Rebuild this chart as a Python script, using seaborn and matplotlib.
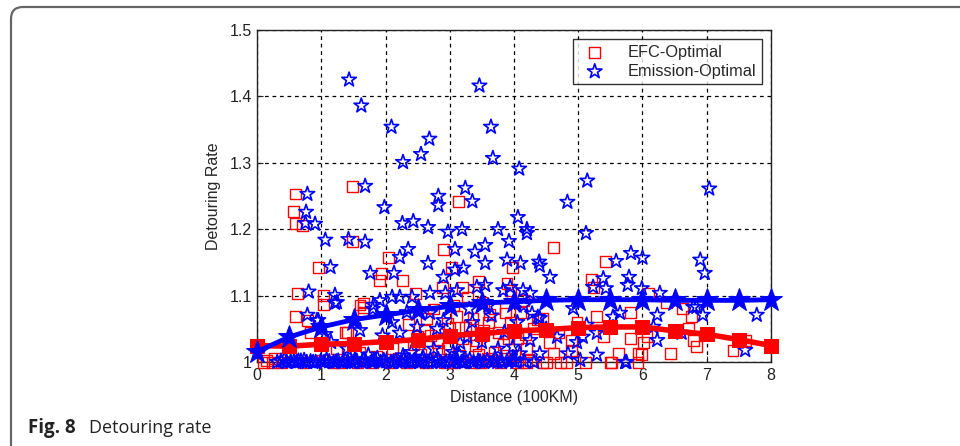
import matplotlib.pyplot as plt
import matplotlib.patches as mpatches
from matplotlib.transforms import IdentityTransform
import pandas as pd
import seaborn as sns

# EFC-Optimal scattered samples (distance in 100KM, detouring rate)
efc_x = [0.59, 0.56, 0.59, 0.70, 1.49, 1.48, 0.95, 0.62, 1.03, 1.03, 0.59, 0.78, 3.13, 2.90, 2.04,
         1.94, 1.91, 2.26, 3.03, 3.45, 3.19, 2.88, 2.46, 3.27, 1.65, 1.65, 1.24, 1.40, 4.62, 5.42,
         5.20, 5.23, 3.98, 3.89, 3.94, 4.14, 5.29, 5.81, 6.09, 6.38, 6.63, 6.77, 6.71, 6.84, 6.79,
         7.41, 6.43, 5.93, 6.01, 5.81, 5.62, 5.50, 5.39, 4.90, 4.98, 4.61, 4.82, 4.72, 4.20, 4.51,
         4.25, 3.63, 7.60, 5.99, 5.11, 4.45, 4.20, 4.90, 6.07, 5.93, 5.52,
         2.35, 2.64, 3.11, 3.36, 3.52, 3.70, 3.86, 2.43, 2.96, 3.83, 3.58, 0.83, 1.60, 0.10, 1.37,
         1.60, 1.65, 2.70, 2.80, 3.00, 3.20, 3.30, 3.40, 3.60, 3.75, 3.95, 4.05, 4.10, 4.30, 4.45,
         4.55, 4.70, 3.15, 3.45, 3.70, 3.85, 4.00, 2.55, 2.20, 1.85, 2.10, 2.60, 2.75, 3.05, 3.50,
         0.15, 0.23, 0.38, 0.72, 1.02, 1.31, 1.56, 1.79, 2.07, 2.33, 2.62, 2.91, 3.08, 3.33, 3.48,
         3.79, 4.06, 2.49, 2.97, 3.62, 3.24, 1.18, 0.27, 3.92, 4.36, 2.83, 3.41, 4.18]
efc_y = [1.253, 1.226, 1.208, 1.205, 1.265, 1.181, 1.142, 1.104, 1.100, 1.087, 1.069, 1.063, 1.242,
         1.169, 1.158, 1.134, 1.123, 1.123, 1.142, 1.122, 1.113, 1.113, 1.104, 1.098, 1.089, 1.082,
         1.021, 1.044, 1.173, 1.152, 1.125, 1.113, 1.143, 1.119, 1.108, 1.093, 1.068, 1.075, 1.104,
         1.090, 1.081, 1.068, 1.051, 1.023, 1.033, 1.018, 1.013, 1.013, 1.030, 1.036, 1.013, 1.000,
         1.038, 1.033, 1.059, 1.013, 1.000, 1.000, 1.021, 1.000, 1.003, 1.003, 1.033, 1.011, 1.000,
         1.000, 1.000, 1.018, 1.038, 1.000, 1.000,
         1.056, 1.066, 1.068, 1.066, 1.048, 1.081, 1.074, 1.026, 1.021, 1.026, 1.006, 1.044, 1.015,
         1.000, 1.044, 1.086, 1.075, 1.040, 1.030, 1.050, 1.035, 1.055, 1.025, 1.060, 1.045, 1.060,
         1.035, 1.075, 1.050, 1.065, 1.030, 1.045, 1.010, 1.012, 1.015, 1.005, 1.010, 1.012, 1.005,
         1.008, 1.020, 1.048, 1.080, 1.085, 1.090, 1.002, 1.000, 1.000, 1.000, 1.002, 1.000, 1.000,
         1.000, 1.000, 1.000, 1.000, 1.000, 1.000, 1.000, 1.000, 1.000, 1.000, 1.038, 1.058, 1.072,
         1.052, 1.000, 1.006, 1.036, 1.064, 1.018, 1.033, 1.042]

# Emission-Optimal scattered samples
emi_x = [1.43, 1.62, 3.46, 3.64, 2.09, 2.27, 2.55, 2.68, 3.67, 4.08, 5.14, 7.04, 3.24, 1.98, 2.82,
         2.82, 4.83, 0.78, 0.76, 0.75, 0.90, 1.68, 3.35, 2.26, 2.43, 2.66, 2.97, 3.19, 3.75, 1.06,
         1.42, 1.68, 3.08, 3.39, 3.55, 3.55, 2.35, 2.22, 2.66, 2.90, 3.08, 3.21, 1.14, 1.76, 2.13,
         0.80, 1.21, 1.21, 0.78, 0.93, 1.06, 1.81, 1.91, 2.10, 2.22, 2.41, 2.69, 2.93, 3.11, 3.42,
         3.55, 3.92, 4.06, 4.20, 4.20, 5.12, 3.89, 4.10, 4.39, 4.40, 4.56, 5.82, 6.00, 5.59, 6.90,
         6.97, 5.79, 5.77, 5.39, 5.23, 5.43, 5.99, 6.27, 7.78, 7.60, 6.23, 6.17, 6.23, 6.94, 6.79,
         4.67, 4.84, 5.03, 5.29, 5.73, 4.40, 5.13, 5.29, 5.65, 5.54, 4.37, 4.28, 4.14, 3.94, 3.83,
         3.98, 3.98, 6.61, 6.84, 4.92, 4.40, 4.25, 4.98, 5.07, 5.75, 4.09, 4.25,
         2.22, 2.49, 2.90, 3.27, 2.54, 3.16, 2.02, 2.69, 2.33, 1.60, 1.73, 0.95, 1.24, 1.80,
         2.80, 3.00, 3.35, 3.50, 3.65, 3.75, 3.85, 3.60, 3.30, 3.05, 2.75, 2.40, 2.10, 1.95, 1.40,
         1.15, 4.50, 4.05, 4.15, 2.58, 3.14, 3.71, 2.27, 1.52, 0.64, 1.87, 3.96,
         0.31, 0.37, 0.46, 0.52, 0.61, 0.68, 0.77, 0.83, 0.91, 0.99, 1.04, 1.12, 1.19, 1.26, 1.33,
         1.41, 1.47, 1.55, 1.63, 1.69, 1.78, 1.84, 1.92, 2.01, 2.08, 2.16, 2.24, 2.31, 2.38, 2.47,
         2.53, 2.61, 2.72, 2.78, 2.86, 2.94, 3.03, 3.12, 3.18, 3.26, 3.37, 3.44, 3.53, 3.68, 3.81,
         3.89, 4.02, 4.16, 4.31,
         0.42, 0.57, 0.73, 0.87, 1.08, 1.23, 1.37, 1.51, 1.66, 1.81, 1.97, 2.12, 2.28, 2.43, 2.57,
         2.67, 2.82, 2.99, 3.09, 3.22, 3.31, 3.47, 3.58, 3.74]
emi_y = [1.425, 1.386, 1.416, 1.354, 1.354, 1.301, 1.313, 1.336, 1.307, 1.291, 1.273, 1.261, 1.262,
         1.233, 1.250, 1.236, 1.241, 1.253, 1.226, 1.209, 1.208, 1.265, 1.242, 1.209, 1.212, 1.203,
         1.196, 1.200, 1.200, 1.184, 1.185, 1.181, 1.170, 1.166, 1.176, 1.149, 1.170, 1.158, 1.149,
         1.128, 1.139, 1.142, 1.143, 1.134, 1.134, 1.106, 1.101, 1.089, 1.071, 1.063, 1.042, 1.086,
         1.093, 1.098, 1.098, 1.098, 1.104, 1.104, 1.108, 1.113, 1.116, 1.182, 1.218, 1.200, 1.194,
         1.194, 1.154, 1.149, 1.151, 1.145, 1.128, 1.164, 1.157, 1.152, 1.154, 1.134, 1.128, 1.116,
         1.126, 1.113, 1.111, 1.111, 1.104, 1.071, 1.018, 1.071, 1.053, 1.033, 1.071, 1.083, 1.038,
         1.013, 1.003, 1.011, 1.000, 1.013, 1.056, 1.044, 1.074, 1.068, 1.068, 1.073, 1.108, 1.113,
         1.108, 1.023, 1.003, 1.044, 1.083, 1.081, 1.066, 1.033, 1.030, 1.038, 1.000, 1.013, 1.104,
         1.044, 1.053, 1.063, 1.038, 1.030, 1.029, 1.029, 1.074, 1.075, 1.048, 1.011, 1.063, 1.090,
         1.080, 1.050, 1.040, 1.060, 1.030, 1.070, 1.020, 1.045, 1.085, 1.080, 1.015, 1.020, 1.015,
         1.060, 1.040, 1.020, 1.030, 1.050, 1.060, 1.085, 1.008, 1.012, 1.005, 1.010, 1.004, 1.002,
         1.006, 1.002,
         1.000, 1.002, 1.000, 1.001, 1.000, 1.002, 1.000, 1.001, 1.000, 1.002, 1.000, 1.001, 1.000,
         1.002, 1.000, 1.001, 1.000, 1.002, 1.000, 1.001, 1.000, 1.002, 1.000, 1.001, 1.000, 1.002,
         1.000, 1.001, 1.000, 1.002, 1.000, 1.001, 1.000, 1.002, 1.000, 1.001, 1.000, 1.002, 1.000,
         1.001, 1.000, 1.002, 1.000, 1.001, 1.000, 1.002, 1.000, 1.001, 1.000,
         1.004, 1.001, 1.003, 1.000, 1.004, 1.001, 1.003, 1.000, 1.004, 1.001, 1.003, 1.000, 1.004,
         1.001, 1.003, 1.000, 1.004, 1.001, 1.003, 1.000, 1.004, 1.001, 1.003, 1.000]

# fitted trend curves
fit_x = [0, 0.5, 1, 1.5, 2, 2.5, 3, 3.5, 4, 4.5, 5, 5.5, 6, 6.5, 7, 7.5, 8]
efc_fit = [1.025, 1.024, 1.027, 1.028, 1.031, 1.034, 1.040, 1.043, 1.047, 1.049, 1.052, 1.053,
           1.053, 1.047, 1.042, 1.034, 1.025]
emi_fit = [1.016, 1.038, 1.053, 1.064, 1.071, 1.078, 1.084, 1.089, 1.091, 1.093, 1.094, 1.094,
           1.094, 1.093, 1.093, 1.093, 1.094]

efc_df = pd.DataFrame({"dist": efc_x, "rate": efc_y})
emi_df = pd.DataFrame({"dist": emi_x, "rate": emi_y})
fit_df = pd.DataFrame({"dist": fit_x, "efc": efc_fit, "emi": emi_fit})

sns.set_style("ticks")
plt.rcParams["font.family"] = ["Liberation Sans", "DejaVu Sans"]

fig = plt.figure(figsize=(9.6, 4.46), dpi=100)
ax = fig.add_axes([0.268, 0.188, 0.535, 0.745])

sns.scatterplot(data=efc_df, x="dist", y="rate", ax=ax, marker="s", s=62,
                facecolors="none", edgecolor="red", linewidth=1.0,
                label="EFC-Optimal", clip_on=False, zorder=3)
sns.scatterplot(data=emi_df, x="dist", y="rate", ax=ax, marker="*", s=120,
                facecolors="none", edgecolor="blue", linewidth=1.2,
                label="Emission-Optimal", clip_on=False, zorder=3)

sns.lineplot(data=fit_df, x="dist", y="efc", ax=ax, color="red", lw=4,
             marker="s", markersize=10, markeredgecolor="red", zorder=4,
             legend=False, clip_on=False)
sns.lineplot(data=fit_df, x="dist", y="emi", ax=ax, color="blue", lw=3.5,
             marker="*", markersize=17, markeredgecolor="blue", zorder=5,
             legend=False, clip_on=False)

ax.set_xlim(0, 8)
ax.set_ylim(1, 1.5)
ax.set_xticks(range(0, 9))
ax.set_yticks([1, 1.1, 1.2, 1.3, 1.4, 1.5])
ax.set_yticklabels(["1", "1.1", "1.2", "1.3", "1.4", "1.5"])
ax.grid(True, color="black", linestyle=(0, (3, 3)), linewidth=0.9)
ax.set_axisbelow(True)
ax.tick_params(direction="in", labelsize=11.5, colors="#222222", length=4, pad=4)
for sp in ax.spines.values():
    sp.set_color("#222222")
    sp.set_linewidth(1.0)
ax.set_xlabel("Distance (100KM)", fontsize=11.5, labelpad=5)
ax.set_ylabel("Detouring Rate", fontsize=11.5, labelpad=6)

leg = ax.legend(loc="upper right", fontsize=11.8, frameon=True, fancybox=False,
                edgecolor="black", borderaxespad=0.55, handletextpad=1.0,
                borderpad=0.35, labelspacing=0.25)
leg.get_frame().set_linewidth(1.0)

# journal-style rounded frame and caption
frame = mpatches.FancyBboxPatch((11, -60), 1000, 499, boxstyle="round,pad=0,rounding_size=12",
                                transform=IdentityTransform(), facecolor="none",
                                edgecolor="#666666", linewidth=1.6)
fig.patches.append(frame)
fig.text(0.029, 0.029, "Fig. 8", fontsize=13.5, fontweight="bold", color="#222222",
         family=["Open Sans", "DejaVu Sans"])
fig.text(0.093, 0.029, "Detouring rate", fontsize=13, color="#222222",
         family=["Open Sans", "DejaVu Sans"])

fig.savefig("out.png", dpi=100)
